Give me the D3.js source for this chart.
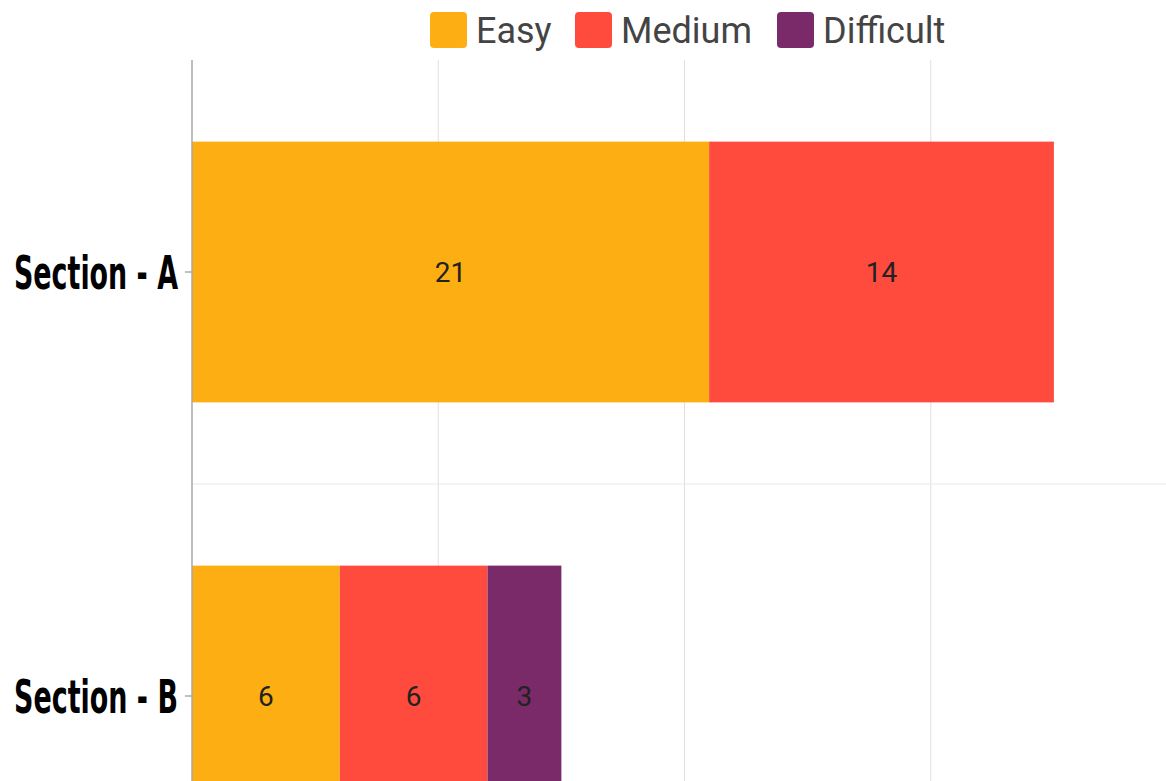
<!DOCTYPE html>
<html>
<head>
<meta charset="utf-8">
<script src="https://cdn.jsdelivr.net/npm/d3@7"></script>
<style>
  body { margin: 0; background: #fff; }
  svg { display: block; }
</style>
</head>
<body>
<svg id="chart" width="1166" height="781"></svg>
<script>
// data
var sections = ["Section - A", "Section - B"];
var levels = ["Easy", "Medium", "Difficult"];
var easy = [21, 6];
var medium = [14, 6];
var difficult = [0, 3];
var xTicks = [0, 10, 20, 30, 40];

var colors = { Easy: "#fcae12", Medium: "#ff4b3e", Difficult: "#7a2a68" };

var svg = d3.select("#chart");
var padLeft = 192, padTop = 60;

var x = d3.scaleLinear().domain([0, 40]).range([padLeft, padLeft + 985]);
var y = d3.scaleBand().domain(sections).range([padTop, padTop + 848]);
var barFrac = 0.615;

// grid
var grid = svg.append("g");
grid.selectAll("line.v")
    .data(xTicks.slice(1))
    .enter().append("line")
    .attr("x1", function(d) { return x(d); })
    .attr("x2", function(d) { return x(d); })
    .attr("y1", padTop).attr("y2", 781)
    .attr("stroke", "#e0e0e0").attr("stroke-width", 1);

grid.selectAll("line.h")
    .data(sections.slice(1))
    .enter().append("line")
    .attr("x1", padLeft).attr("x2", 1166)
    .attr("y1", function(d) { return y(d); })
    .attr("y2", function(d) { return y(d); })
    .attr("stroke", "#e8e8e8").attr("stroke-width", 1);

// stacked bars
var rows = sections.map(function(s, i) {
  return { section: s, Easy: easy[i], Medium: medium[i], Difficult: difficult[i] };
});
var stacked = d3.stack().keys(levels)(rows);

var bh = y.bandwidth() * barFrac;
var off = (y.bandwidth() - bh) / 2;

var layer = svg.selectAll("g.layer")
    .data(stacked)
    .enter().append("g")
    .attr("fill", function(d) { return colors[d.key]; });

layer.selectAll("rect")
    .data(function(d) { return d.filter(function(p) { return p[1] - p[0] > 0; }); })
    .enter().append("rect")
    .attr("x", function(d) { return x(d[0]); })
    .attr("width", function(d) { return x(d[1]) - x(d[0]); })
    .attr("y", function(d) { return y(d.data.section) + off; })
    .attr("height", bh);

layer.selectAll("text")
    .data(function(d) { return d.filter(function(p) { return p[1] - p[0] > 0; }); })
    .enter().append("text")
    .attr("x", function(d) { return (x(d[0]) + x(d[1])) / 2; })
    .attr("y", function(d) { return y(d.data.section) + y.bandwidth() / 2; })
    .attr("dy", "0.36em")
    .attr("text-anchor", "middle")
    .attr("fill", "#222")
    .style("font-family", "Roboto, Arial, sans-serif")
    .style("font-size", "28px")
    .text(function(d) { return d[1] - d[0]; });

// y axis
svg.append("line")
    .attr("x1", padLeft).attr("x2", padLeft)
    .attr("y1", padTop).attr("y2", 781)
    .attr("stroke", "#a8a8a8").attr("stroke-width", 1.5);

var yAx = svg.append("g");
yAx.selectAll("line")
    .data(sections)
    .enter().append("line")
    .attr("x1", padLeft - 7).attr("x2", padLeft)
    .attr("y1", function(d) { return y(d) + y.bandwidth() / 2; })
    .attr("y2", function(d) { return y(d) + y.bandwidth() / 2; })
    .attr("stroke", "#a8a8a8").attr("stroke-width", 1.5);

// condensed heavy labels: squeeze horizontally to fit the reference width
var labelW = 164;
yAx.selectAll("text")
    .data(sections)
    .enter().append("text")
    .attr("dy", "0.36em")
    .attr("fill", "#000")
    .style("font-family", "'DejaVu Sans Condensed', 'Liberation Sans Narrow', sans-serif")
    .style("font-weight", "bold")
    .style("font-size", "46px")
    .text(function(d) { return d; })
    .attr("transform", function(d) {
      var w = this.getComputedTextLength();
      return "translate(14," + (y(d) + y.bandwidth() / 2) + ") scale(" + (labelW / w) + ",1)";
    });

// legend
var legendX = [430, 575, 777];
var leg = svg.selectAll("g.legend")
    .data(levels)
    .enter().append("g")
    .attr("transform", function(d, i) { return "translate(" + legendX[i] + ",12)"; });

leg.append("rect")
    .attr("width", 37).attr("height", 36)
    .attr("rx", 4)
    .attr("fill", function(d) { return colors[d]; });

leg.append("text")
    .attr("x", 46).attr("y", 18)
    .attr("dy", "0.36em")
    .attr("fill", "#444")
    .style("font-family", "Roboto, sans-serif")
    .style("font-size", "36px")
    .text(function(d) { return d; });
</script>
</body>
</html>
